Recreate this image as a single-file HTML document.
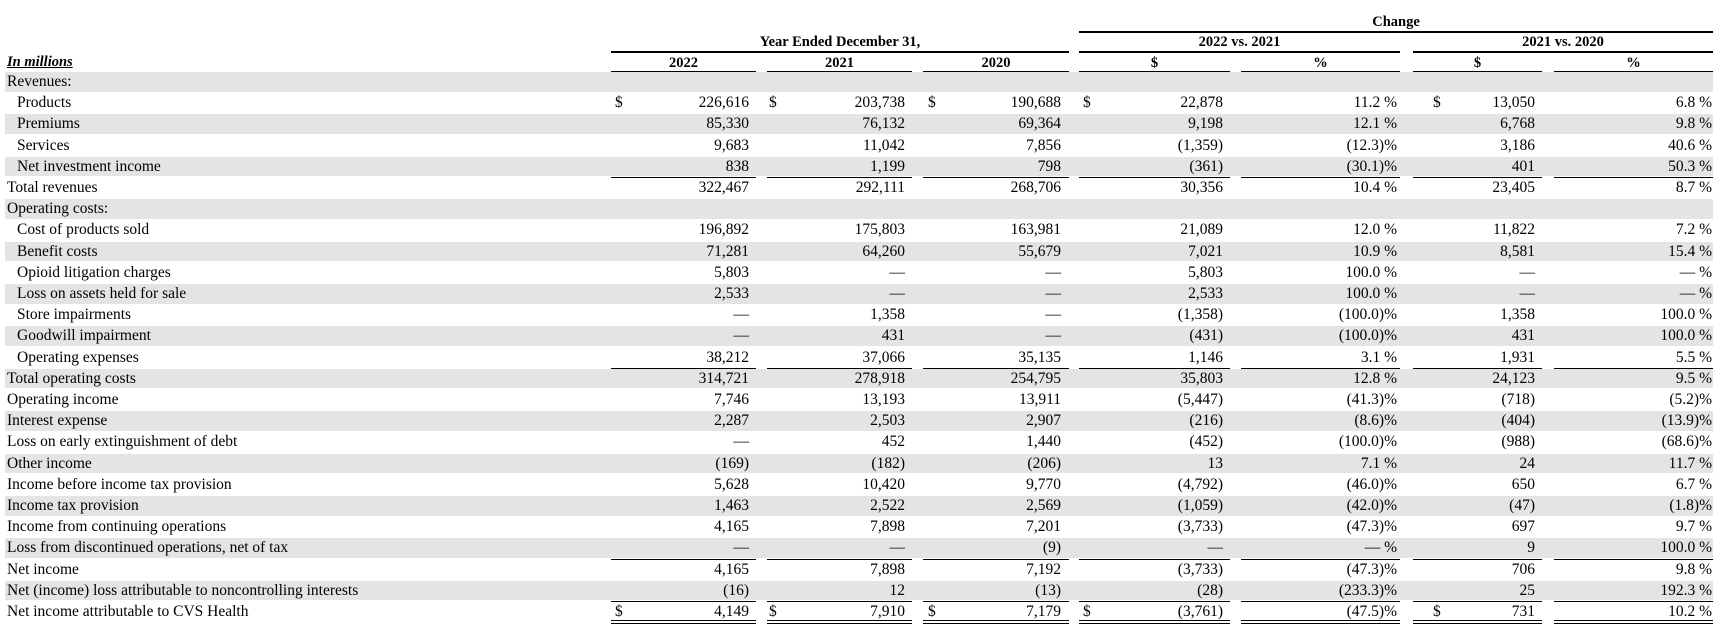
<!DOCTYPE html>
<html><head><meta charset="utf-8">
<style>
html,body{margin:0;padding:0;background:#fff}
body{width:1723px;height:632px;position:relative;overflow:hidden;font-family:"Liberation Serif","Times New Roman",serif;font-size:15.5px;color:#000}
.a{position:absolute;white-space:nowrap;line-height:20px}
.g{position:absolute;background:#e4e4e4}
.l{position:absolute;background:#000;height:1.5px}
.h{font-weight:bold;text-align:center;font-size:14.5px}
</style></head><body>
<div id="t"></div>
<script>
const labels=["Revenues:","Products","Premiums","Services","Net investment income","Total revenues","Operating costs:","Cost of products sold","Benefit costs","Opioid litigation charges","Loss on assets held for sale","Store impairments","Goodwill impairment","Operating expenses","Total operating costs","Operating income","Interest expense","Loss on early extinguishment of debt","Other income","Income before income tax provision","Income tax provision","Income from continuing operations","Loss from discontinued operations, net of tax","Net income","Net (income) loss attributable to noncontrolling interests","Net income attributable to CVS Health"];
const indent=[0,1,1,1,1,0,0,1,1,1,1,1,1,1,0,0,0,0,0,0,0,0,0,0,0,0];
const v2022=["","226,616","85,330","9,683","838","322,467","","196,892","71,281","5,803","2,533","—","—","38,212","314,721","7,746","2,287","—","(169)","5,628","1,463","4,165","—","4,165","(16)","4,149"];
const v2021=["","203,738","76,132","11,042","1,199","292,111","","175,803","64,260","—","—","1,358","431","37,066","278,918","13,193","2,503","452","(182)","10,420","2,522","7,898","—","7,898","12","7,910"];
const v2020=["","190,688","69,364","7,856","798","268,706","","163,981","55,679","—","—","—","—","35,135","254,795","13,911","2,907","1,440","(206)","9,770","2,569","7,201","(9)","7,192","(13)","7,179"];
const chg1=["","22,878","9,198","(1,359)","(361)","30,356","","21,089","7,021","5,803","2,533","(1,358)","(431)","1,146","35,803","(5,447)","(216)","(452)","13","(4,792)","(1,059)","(3,733)","—","(3,733)","(28)","(3,761)"];
const pct1=["","11.2 %","12.1 %","(12.3)%","(30.1)%","10.4 %","","12.0 %","10.9 %","100.0 %","100.0 %","(100.0)%","(100.0)%","3.1 %","12.8 %","(41.3)%","(8.6)%","(100.0)%","7.1 %","(46.0)%","(42.0)%","(47.3)%","— %","(47.3)%","(233.3)%","(47.5)%"];
const chg2=["","13,050","6,768","3,186","401","23,405","","11,822","8,581","—","—","1,358","431","1,931","24,123","(718)","(404)","(988)","24","650","(47)","697","9","706","25","731"];
const pct2=["","6.8 %","9.8 %","40.6 %","50.3 %","8.7 %","","7.2 %","15.4 %","— %","— %","100.0 %","100.0 %","5.5 %","9.5 %","(5.2)%","(13.9)%","(68.6)%","11.7 %","6.7 %","(1.8)%","9.7 %","100.0 %","9.8 %","192.3 %","10.2 %"];
const dollarRows=[1,25];
const lineAfter=[4,13,22,24];

const T=document.getElementById('t');
const cols=[v2022,v2021,v2020,chg1,pct1,chg2,pct2];
const colNames=['2022','2021','2020','change-2022-vs-2021','pct-2022-vs-2021','change-2021-vs-2020','pct-2021-vs-2020'];
const rightX=[749,905,1061,1223,1397,1535,1712];
const dollarX=[615,769,928,1083,null,1433,null];
const seg=[[611,756],[767,912],[923,1069],[1079,1230],[1241,1400],[1413,1542],[1554,1713]];
const top0=72,pitch=21.2;
function add(cls,css,txt){const d=document.createElement('div');d.className=cls;d.style.cssText=css;if(txt!==undefined)d.textContent=txt;T.appendChild(d);return d;}
let e;
e=add('a h','left:1079px;width:634px;top:12px','Change');


add('l','left:1079px;width:634px;top:31px');
e=add('a h','left:611px;width:458px;top:32px','Year Ended December 31,');


add('l','left:611px;width:458px;top:51px');
e=add('a h','left:1079px;width:321px;top:32px','2022 vs. 2021');


add('l','left:1079px;width:321px;top:51px');
e=add('a h','left:1413px;width:300px;top:32px','2021 vs. 2020');


add('l','left:1413px;width:300px;top:51px');
const sub=['2022','2021','2020','$','%','$','%'];
sub.forEach((s,i)=>{const [a,b]=seg[i];
 const h=add('a h',`left:${a}px;width:${b-a}px;top:53px`,s);
 
 
 add('l',`left:${a}px;width:${b-a}px;top:71px`);
});
e=add('a','left:7px;top:52px;font-weight:bold;font-style:italic;text-decoration:underline;font-size:14.5px','In millions');


labels.forEach((lab,i)=>{
 const y=top0+pitch*i;
 if(i%2===0){add('g',`left:5px;width:1708px;top:${y}px;height:19.5px`);}
 const r=add('a',`left:${indent[i]?17:7}px;top:${y}px`,lab);
 
 
 cols.forEach((c,j)=>{
  if(!c[i])return;
  const v=add('a',`right:${1723-rightX[j]}px;top:${y}px`,c[i]);
  
  
  if(dollarRows.includes(i)&&dollarX[j]!==null){
   const d=add('a',`left:${dollarX[j]}px;top:${y}px`,'$');
   
   
  }
 });
 if(lineAfter.includes(i)){
  const ly=y+pitch-1;
  seg.forEach(([a,b])=>add('l',`left:${a}px;width:${b-a}px;top:${ly}px;height:1.3px`));
 }
});
const by=top0+pitch*26-3;
seg.forEach(([a,b])=>{add('l',`left:${a}px;width:${b-a}px;top:${by}px;height:1.3px`);add('l',`left:${a}px;width:${b-a}px;top:${by+3}px;height:1.3px`);});
</script>
</body></html>
